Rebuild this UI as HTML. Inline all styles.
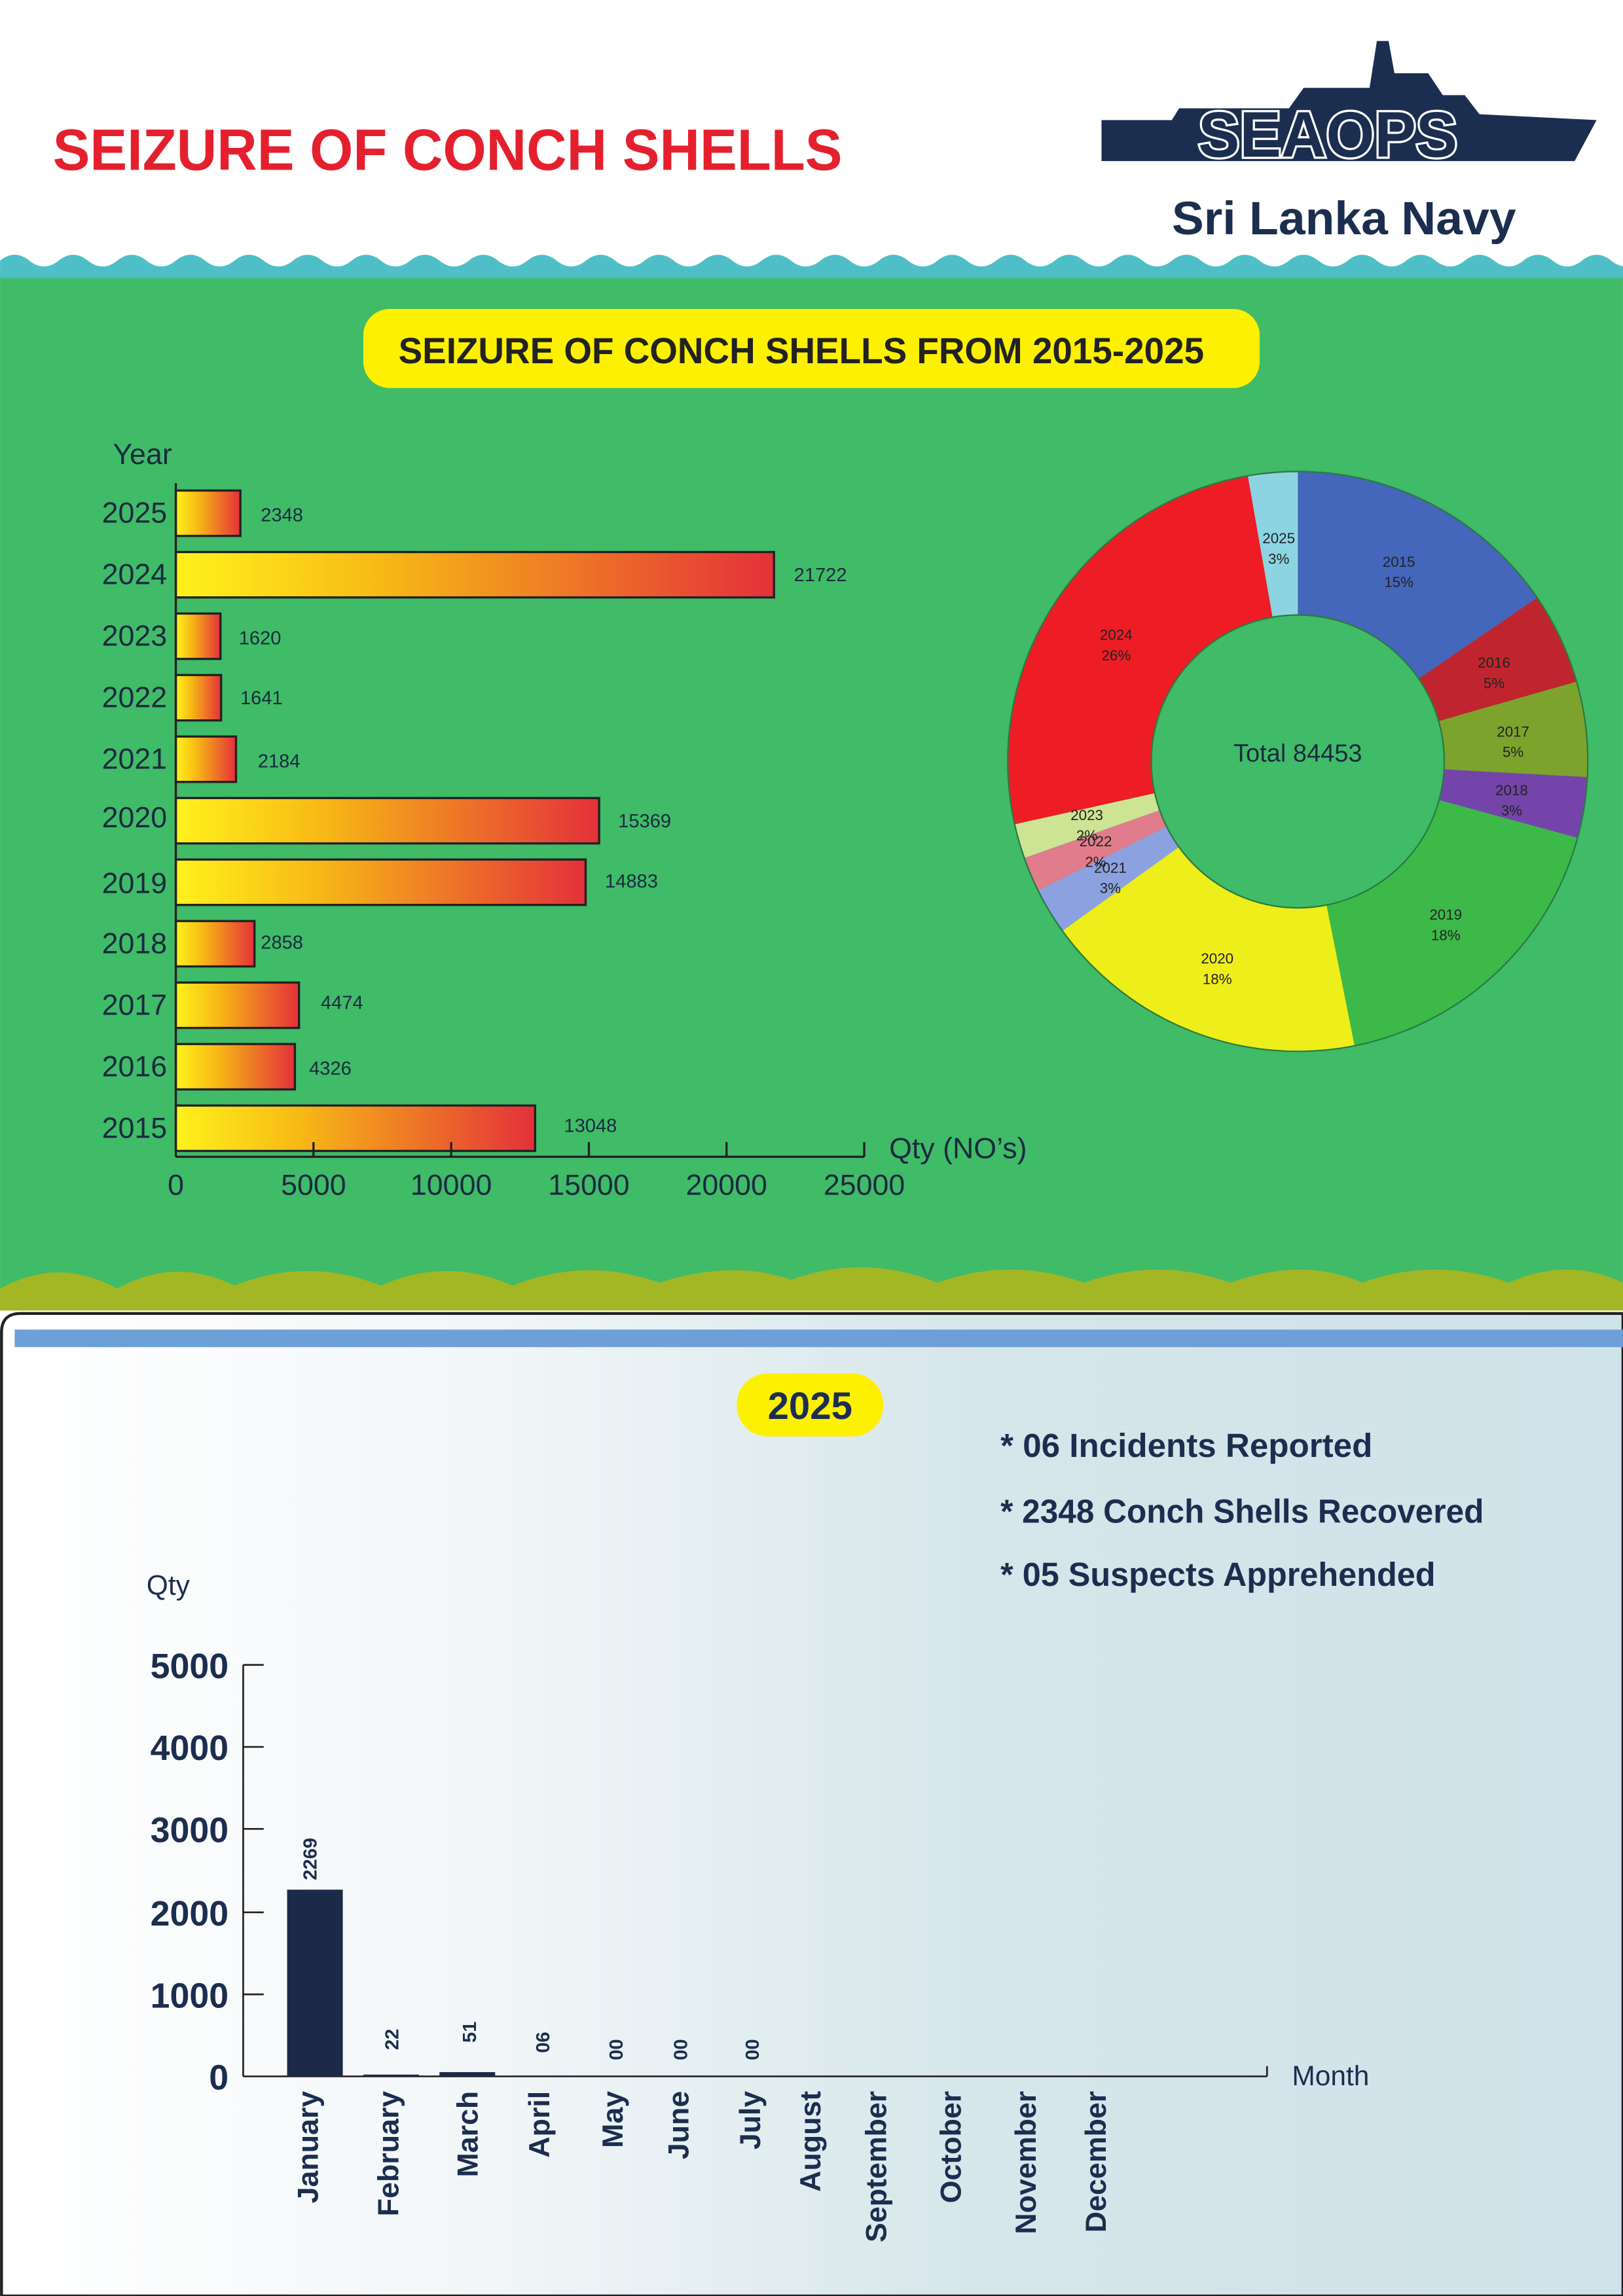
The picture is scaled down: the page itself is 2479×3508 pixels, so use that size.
<!DOCTYPE html>
<html><head><meta charset="utf-8"><style>
html,body{margin:0;padding:0;background:#fff}
svg{display:block}
text{font-family:"Liberation Sans",sans-serif}
</style></head><body>
<svg width="2479" height="3508" viewBox="0 0 1108 1568" xmlns="http://www.w3.org/2000/svg">
<defs>
<linearGradient id="bg" x1="0" x2="1" y1="0" y2="0">
<stop offset="0" stop-color="#ffffff"/><stop offset="0.3" stop-color="#f2f6f8"/><stop offset="0.6" stop-color="#d6e6ea"/><stop offset="1" stop-color="#cfe3ea"/></linearGradient>
<linearGradient id="bar" x1="0" x2="1" y1="0" y2="0">
<stop offset="0" stop-color="#fff21c"/><stop offset="0.35" stop-color="#f7b815"/><stop offset="1" stop-color="#e4303a"/></linearGradient>
</defs>
<rect width="1108" height="1568" fill="#fff"/>
<text x="36" y="116" font-size="40" font-weight="bold" fill="#e5202e" textLength="539" lengthAdjust="spacingAndGlyphs">SEIZURE OF CONCH SHELLS</text>
<path d="M752 82 L800 82 L805 74 L880 74 L890 60 L935 60 L940 28 L948 28 L952 50 L975 50 L985 65 L1000 65 L1010 78 L1090 82 L1075 110 L752 110 Z" fill="#1c2e4f"/>
<text x="818" y="107" font-size="44" font-weight="bold" fill="#1c2e4f" stroke="#fff" stroke-width="3" paint-order="stroke" textLength="177" lengthAdjust="spacingAndGlyphs">SEAOPS</text>
<text x="800" y="160" font-size="32" font-weight="bold" fill="#1c2e4f" textLength="235" lengthAdjust="spacingAndGlyphs">Sri Lanka Navy</text>
<rect x="0" y="185" width="1108" height="710" fill="#40bb68"/>
<path d="M0 178 Q10 170 20 178 T40 178 T60 178 T80 178 T100 178 T120 178 T140 178 T160 178 T180 178 T200 178 T220 178 T240 178 T260 178 T280 178 T300 178 T320 178 T340 178 T360 178 T380 178 T400 178 T420 178 T440 178 T460 178 T480 178 T500 178 T520 178 T540 178 T560 178 T580 178 T600 178 T620 178 T640 178 T660 178 T680 178 T700 178 T720 178 T740 178 T760 178 T780 178 T800 178 T820 178 T840 178 T860 178 T880 178 T900 178 T920 178 T940 178 T960 178 T980 178 T1000 178 T1020 178 T1040 178 T1060 178 T1080 178 T1100 178 T1120 178 L1108 190 L0 190 Z" fill="#4fbfc7"/>
<path d="M0 895 L0 880 Q40 858 80 880 Q120 858 160 878 Q210 858 260 878 Q305 858 350 878 Q400 858 450 876 Q500 860 540 874 Q590 856 640 876 Q690 858 740 876 Q790 858 840 876 Q890 858 930 876 Q980 858 1030 876 Q1070 858 1108 876 L1108 895 Z" fill="#a3b624"/>
<rect x="248" y="211" width="612" height="54" rx="18" fill="#fdf000"/>
<text x="272" y="248" font-size="25" font-weight="bold" fill="#222" textLength="550" lengthAdjust="spacingAndGlyphs">SEIZURE OF CONCH SHELLS FROM 2015-2025</text>
<text x="77" y="317" font-size="20" fill="#1a2a40">Year</text>
<g stroke="#222" stroke-width="1.5" fill="url(#bar)">
<rect x="120" y="335" width="44.1" height="31"/>
<rect x="120" y="377" width="408.4" height="31"/>
<rect x="120" y="419" width="30.5" height="31"/>
<rect x="120" y="461" width="30.9" height="31"/>
<rect x="120" y="503" width="41.1" height="31"/>
<rect x="120" y="545" width="289" height="31"/>
<rect x="120" y="587" width="279.8" height="31"/>
<rect x="120" y="629" width="53.7" height="31"/>
<rect x="120" y="671" width="84.1" height="31"/>
<rect x="120" y="713" width="81.3" height="31"/>
<rect x="120" y="755" width="245.3" height="31"/>
</g>
<g font-size="20" fill="#1a2a40" text-anchor="end">
<text x="114" y="357">2025</text><text x="114" y="399">2024</text><text x="114" y="441">2023</text><text x="114" y="483">2022</text><text x="114" y="525">2021</text><text x="114" y="565">2020</text><text x="114" y="610">2019</text><text x="114" y="651">2018</text><text x="114" y="693">2017</text><text x="114" y="735">2016</text><text x="114" y="777">2015</text>
</g>
<g font-size="13" fill="#1a2a40">
<text x="178" y="356">2348</text><text x="542" y="397">21722</text><text x="163" y="440">1620</text><text x="164" y="481">1641</text><text x="176" y="524">2184</text><text x="422" y="565">15369</text><text x="413" y="606">14883</text><text x="178" y="648">2858</text><text x="219" y="689">4474</text><text x="211" y="734">4326</text><text x="385" y="773">13048</text>
</g>
<g stroke="#222" stroke-width="1.5">
<line x1="120" y1="330" x2="120" y2="790"/><line x1="120" y1="790" x2="590" y2="790"/>
<line x1="214" y1="780" x2="214" y2="790"/><line x1="308" y1="780" x2="308" y2="790"/><line x1="402" y1="780" x2="402" y2="790"/><line x1="496" y1="780" x2="496" y2="790"/><line x1="590" y1="780" x2="590" y2="790"/>
</g>
<g font-size="20" fill="#1a2a40" text-anchor="middle">
<text x="120" y="816">0</text><text x="214" y="816">5000</text><text x="308" y="816">10000</text><text x="402" y="816">15000</text><text x="496" y="816">20000</text><text x="590" y="816">25000</text>
</g>
<text x="607" y="791" font-size="20" fill="#1a2a40">Qty  (NO’s)</text>
<g transform="rotate(-90 886 520)" fill="none" stroke-width="98">
<circle cx="886" cy="520" r="149" stroke="#4466bb" stroke-dasharray="144.6 1000" stroke-dashoffset="0"/>
<circle cx="886" cy="520" r="149" stroke="#c0252f" stroke-dasharray="47.9 1000" stroke-dashoffset="-144.6"/>
<circle cx="886" cy="520" r="149" stroke="#7ca32c" stroke-dasharray="49.6 1000" stroke-dashoffset="-192.5"/>
<circle cx="886" cy="520" r="149" stroke="#7444aa" stroke-dasharray="31.7 1000" stroke-dashoffset="-242.1"/>
<circle cx="886" cy="520" r="149" stroke="#3db94a" stroke-dasharray="164.9 1000" stroke-dashoffset="-273.8"/>
<circle cx="886" cy="520" r="149" stroke="#eeee1a" stroke-dasharray="170.4 1000" stroke-dashoffset="-438.7"/>
<circle cx="886" cy="520" r="149" stroke="#8ca2e0" stroke-dasharray="24.2 1000" stroke-dashoffset="-609.1"/>
<circle cx="886" cy="520" r="149" stroke="#e07c8c" stroke-dasharray="18.2 1000" stroke-dashoffset="-633.3"/>
<circle cx="886" cy="520" r="149" stroke="#cce494" stroke-dasharray="18 1000" stroke-dashoffset="-651.5"/>
<circle cx="886" cy="520" r="149" stroke="#ee1c25" stroke-dasharray="240.8 1000" stroke-dashoffset="-669.5"/>
<circle cx="886" cy="520" r="149" stroke="#8cd4e2" stroke-dasharray="26.1 1000" stroke-dashoffset="-910.3"/>
</g>
<circle cx="886" cy="520" r="198" fill="none" stroke="#2a7a40" stroke-width="1"/>
<circle cx="886" cy="520" r="100" fill="#40bb68" stroke="#2a7a40" stroke-width="1"/>
<text x="886" y="520" font-size="17" fill="#1a2a40" text-anchor="middle">Total 84453</text>
<g font-size="10" fill="#222" text-anchor="middle">
<text x="873" y="371">2025</text><text x="873" y="385">3%</text>
<text x="955" y="387">2015</text><text x="955" y="401">15%</text>
<text x="1020" y="456">2016</text><text x="1020" y="470">5%</text>
<text x="1033" y="503">2017</text><text x="1033" y="517">5%</text>
<text x="1032" y="543">2018</text><text x="1032" y="557">3%</text>
<text x="987" y="628">2019</text><text x="987" y="642">18%</text>
<text x="831" y="658">2020</text><text x="831" y="672">18%</text>
<text x="758" y="596">2021</text><text x="758" y="610">3%</text>
<text x="748" y="578">2022</text><text x="748" y="592">2%</text>
<text x="742" y="560">2023</text><text x="742" y="574">2%</text>
<text x="762" y="437">2024</text><text x="762" y="451">26%</text>
</g>
<rect x="0" y="895" width="1108" height="673" fill="#fff"/>
<path d="M1 1568 L1 910 Q1 897 14 897 L1108 897 L1108 1568 Z" fill="url(#bg)" stroke="#222" stroke-width="2"/>
<rect x="10" y="908" width="1098" height="12" fill="#6f9fd8"/>
<rect x="503" y="938" width="100" height="43" rx="21" fill="#fdf000"/>
<text x="553" y="969" font-size="26" font-weight="bold" fill="#1c2e4f" text-anchor="middle">2025</text>
<g font-size="23" font-weight="bold" fill="#1c2e4f" lengthAdjust="spacingAndGlyphs">
<text x="683" y="995" textLength="254" lengthAdjust="spacingAndGlyphs">* 06 Incidents Reported</text>
<text x="683" y="1040" textLength="330" lengthAdjust="spacingAndGlyphs">* 2348 Conch Shells Recovered</text>
<text x="683" y="1083" textLength="297" lengthAdjust="spacingAndGlyphs">* 05 Suspects Apprehended</text>
</g>
<text x="100" y="1089" font-size="19" fill="#1c2e4f">Qty</text>
<g font-size="24" font-weight="bold" fill="#1c2e4f" text-anchor="end">
<text x="156" y="1146">5000</text><text x="156" y="1202">4000</text><text x="156" y="1258">3000</text><text x="156" y="1315">2000</text><text x="156" y="1371">1000</text><text x="156" y="1427">0</text>
</g>
<g stroke="#222" stroke-width="1.2">
<line x1="166" y1="1137" x2="166" y2="1418"/><line x1="166" y1="1418" x2="865" y2="1418"/><line x1="865" y1="1411" x2="865" y2="1418"/>
<line x1="166" y1="1137" x2="180" y2="1137"/><line x1="166" y1="1193" x2="180" y2="1193"/><line x1="166" y1="1249" x2="180" y2="1249"/><line x1="166" y1="1306" x2="180" y2="1306"/><line x1="166" y1="1362" x2="180" y2="1362"/>
</g>
<text x="882" y="1424" font-size="19" fill="#1c2e4f">Month</text>
<g fill="#1c2a48">
<rect x="196" y="1290.5" width="38" height="127.5"/>
<rect x="248" y="1416.8" width="38" height="1.2"/>
<rect x="300" y="1415.1" width="38" height="2.9"/>
<rect x="352" y="1417.5" width="38" height="0.5"/>
</g>
<g font-size="13" font-weight="bold" fill="#1c2e4f">
<text transform="translate(216 1284) rotate(-90)">2269</text>
<text transform="translate(272 1400) rotate(-90)">22</text>
<text transform="translate(325 1395) rotate(-90)">51</text>
<text transform="translate(375 1402) rotate(-90)">06</text>
<text transform="translate(425 1407) rotate(-90)">00</text>
<text transform="translate(469 1407) rotate(-90)">00</text>
<text transform="translate(518 1407) rotate(-90)">00</text>
</g>
<g font-size="20" font-weight="bold" fill="#1c2e4f" text-anchor="end">
<text transform="translate(217 1428) rotate(-90)">January</text>
<text transform="translate(272 1428) rotate(-90)">February</text>
<text transform="translate(326 1428) rotate(-90)">March</text>
<text transform="translate(375 1428) rotate(-90)">April</text>
<text transform="translate(425 1428) rotate(-90)">May</text>
<text transform="translate(470 1428) rotate(-90)">June</text>
<text transform="translate(519 1428) rotate(-90)">July</text>
<text transform="translate(560 1428) rotate(-90)">August</text>
<text transform="translate(605 1428) rotate(-90)">September</text>
<text transform="translate(656 1428) rotate(-90)">October</text>
<text transform="translate(707 1428) rotate(-90)">November</text>
<text transform="translate(755 1428) rotate(-90)">December</text>
</g>
</svg>
</body></html>
